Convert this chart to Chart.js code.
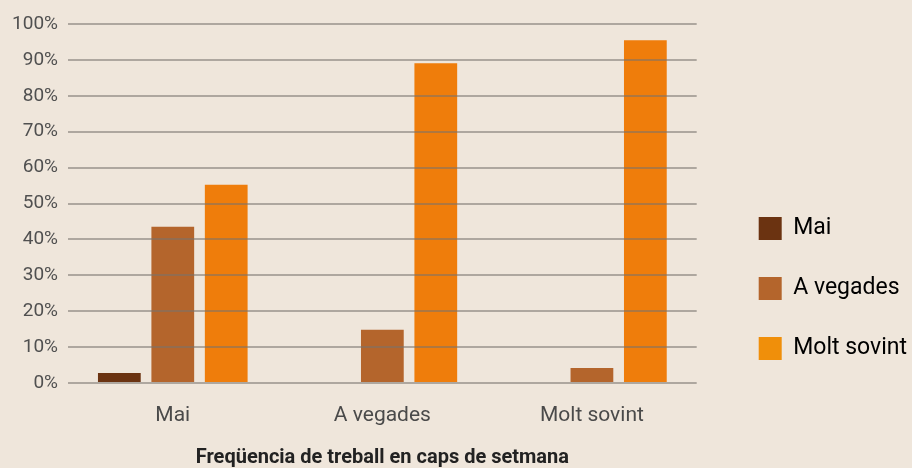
<!DOCTYPE html>
<html>
<head>
<meta charset="utf-8">
<script src="https://cdn.jsdelivr.net/npm/chart.js@4.4.1/dist/chart.umd.min.js"></script>
<style>
  html, body { margin: 0; padding: 0; background: #efe6db; }
  #wrap { width: 912px; height: 468px; position: relative; }
</style>
</head>
<body>
<div id="wrap"><canvas id="chart"></canvas></div>
<script>
const categories = ['Mai', 'A vegades', 'Molt sovint'];
const seriesNames = ['Mai', 'A vegades', 'Molt sovint'];
const maiValues = [2.8, 0, 0];
const aVegadesValues = [43.5, 14.8, 4.2];
const moltSovintValues = [55.2, 89.1, 95.5];
const yTickValues = [0, 10, 20, 30, 40, 50, 60, 70, 80, 90, 100];
const xTitle = 'Freqüencia de treball en caps de setmana';

const colors = ['#6b3311', '#b4652c', '#ef7d0b'];
const legendColors = ['#6b3311', '#b4652c', '#f08f0a'];

// moves the legend block a bit after layout
const legendNudge = {
  id: 'legendNudge',
  afterLayout(chart) {
    const lg = chart.legend;
    const dx = 25, dy = 14;
    lg.left += dx; lg.right += dx;
    lg.top += dy; lg.bottom += dy;
  }
};

const datasets = [maiValues, aVegadesValues, moltSovintValues].map((vals, i) => ({
  label: seriesNames[i],
  data: vals,
  backgroundColor: colors[i],
  borderWidth: 0,
  categoryPercentage: 0.765,
  barPercentage: 0.8,
}));

new Chart(document.getElementById('chart'), {
  type: 'bar',
  data: { labels: categories, datasets },
  plugins: [legendNudge],
  options: {
    responsive: true,
    maintainAspectRatio: false,
    animation: false,
    layout: { padding: { top: 24, right: 20, bottom: 0, left: 0 } },
    plugins: {
      tooltip: { enabled: false },
      legend: {
        position: 'right',
        align: 'end',
        fullSize: false,
        labels: {
          boxWidth: 23,
          boxHeight: 23,
          padding: 37,
          color: '#3a3a3a',
          font: { family: 'Roboto', size: 23 },
          generateLabels: chart => chart.data.datasets.map((ds, i) => ({
            text: ds.label,
            fillStyle: legendColors[i],
            strokeStyle: legendColors[i],
            lineWidth: 0,
            datasetIndex: i,
          })),
        },
      },
    },
    scales: {
      x: {
        grid: { display: false },
        border: { display: false },
        ticks: { color: '#4a4a4a', padding: 12, font: { family: 'Roboto', size: 21 } },
        title: {
          display: true,
          text: xTitle,
          color: '#222',
          font: { family: 'Roboto', size: 20, weight: 'bold' },
          padding: { top: 0, bottom: -2 },
        },
        afterFit: scale => { scale.height = 85; },
      },
      y: {
        min: 0,
        max: 100,
        afterBuildTicks: scale => { scale.ticks = yTickValues.map(v => ({ value: v })); },
        grid: { color: 'rgba(120, 115, 110, 0.55)', lineWidth: 2, drawTicks: false, z: 1 },
        border: { display: false },
        ticks: {
          color: '#505050',
          padding: 10,
          font: { family: 'Roboto', size: 19 },
          callback: v => v + '%',
        },
        afterFit: scale => { scale.width = 68; },
      },
    },
  },
});
</script>
</body>
</html>
